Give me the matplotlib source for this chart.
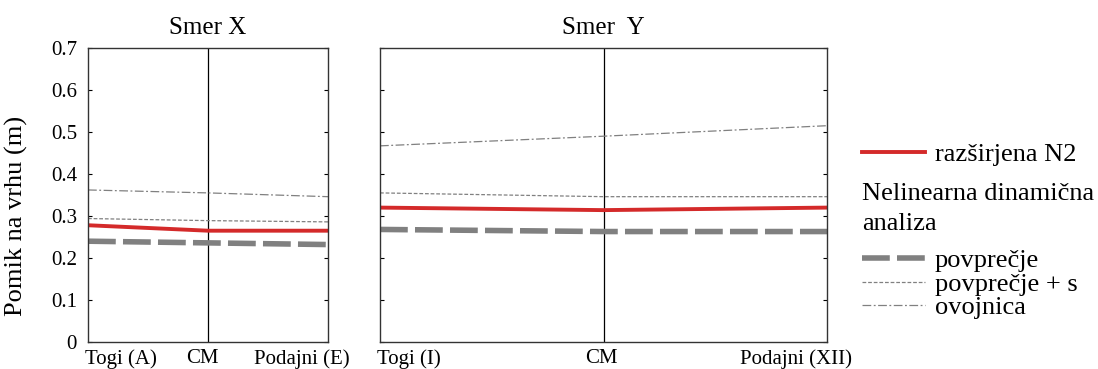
import matplotlib.pyplot as plt
import matplotlib.transforms as mtransforms
from matplotlib.lines import Line2D

plt.rcParams['font.family'] = ['Liberation Serif', 'DejaVu Serif']

# Smer X
x_labels = ['Togi (A)', 'CM', 'Podajni (E)']
x_n2 = [0.278, 0.265, 0.265]
x_povp = [0.240, 0.236, 0.232]
x_povp_s = [0.294, 0.289, 0.286]
x_ovoj = [0.362, 0.355, 0.346]

# Smer Y
y_labels = ['Togi (I)', 'CM', 'Podajni (XII)']
y_n2 = [0.320, 0.314, 0.320]
y_povp = [0.268, 0.263, 0.263]
y_povp_s = [0.355, 0.346, 0.346]
y_ovoj = [0.467, 0.490, 0.515]

yticks = [0, 0.1, 0.2, 0.3, 0.4, 0.5, 0.6, 0.7]
ytick_labels = ['0', '0.1', '0.2', '0.3', '0.4', '0.5', '0.6', '0.7']

red = '#d42a2a'
grey = '#808080'
ls_ovoj = (0, (7, 2, 1.5, 2))
ls_povp_s = (0, (3, 1.5))
ls_povp = (0, (5, 1.3))

fig = plt.figure(figsize=(10.98, 3.69), dpi=100)
ax1 = fig.add_axes([88 / 1098, 1 - 342 / 369, 240 / 1098, 294 / 369])
ax2 = fig.add_axes([380 / 1098, 1 - 342 / 369, 447 / 1098, 294 / 369])


def zamakni(t, dx):
    t.set_transform(t.get_transform() +
                    mtransforms.ScaledTranslation(dx / 100, 0, fig.dpi_scale_trans))


def narisi(ax, labels, n2, povp, povp_s, ovoj, naslov, desni_zamik, cm_zamik):
    pos = range(len(labels))
    ax.axvline(1, color='black', lw=0.9)
    ax.plot(pos, ovoj, color=grey, lw=0.9, linestyle=ls_ovoj)
    ax.plot(pos, povp_s, color=grey, lw=0.9, linestyle=ls_povp_s)
    ax.plot(pos, povp, color=grey, lw=4, linestyle=ls_povp)
    ax.plot(pos, n2, color=red, lw=2.8)
    ax.set_xlim(0, len(labels) - 1)
    ax.set_ylim(0, 0.7)
    ax.set_yticks(yticks)
    ax.set_yticklabels(ytick_labels)
    ax.set_xticks(list(pos))
    ax.set_xticklabels(labels, fontsize=15)
    ax.tick_params(axis='x', length=0, pad=5)
    ax.tick_params(axis='y', direction='in', length=3, right=True, labelsize=15, pad=8)
    # robni oznaki poravnani kot v izvirniku
    tl = ax.get_xticklabels()
    tl[0].set_ha('left')
    zamakni(tl[0], -3)
    zamakni(tl[1], cm_zamik)
    tl[-1].set_ha('right')
    zamakni(tl[-1], desni_zamik)
    for s in ax.spines.values():
        s.set_color('#333333')
        s.set_linewidth(1.0)
    ax.set_title(naslov, fontsize=18, pad=10)


narisi(ax1, x_labels, x_n2, x_povp, x_povp_s, x_ovoj, 'Smer X', 22, -6)
narisi(ax2, y_labels, y_n2, y_povp, y_povp_s, y_ovoj, 'Smer  Y', 25, -2)
ax2.set_yticklabels([])
ax1.set_ylabel('Pomik na vrhu (m)', fontsize=19)
ax1.yaxis.set_label_coords(-0.25, 0.43)

# legenda
h1 = [Line2D([], [], color=red, lw=2.8)]
fig.legend(h1, ['razširjena N2'], loc='center left', bbox_to_anchor=(862 / 1098, 1 - 154 / 369),
           frameon=False, fontsize=19, handlelength=2.4, handletextpad=0.35, borderaxespad=0,
           borderpad=0)
fig.text(862 / 1098, 1 - 200 / 369, 'Nelinearna dinamična', fontsize=19,
         va='baseline', ha='left')
fig.text(862 / 1098, 1 - 230 / 369, 'analiza', fontsize=19,
         va='baseline', ha='left')
h2 = [Line2D([], [], color=grey, lw=4, linestyle=ls_povp),
      Line2D([], [], color=grey, lw=0.9, linestyle=ls_povp_s),
      Line2D([], [], color=grey, lw=0.9, linestyle=ls_ovoj)]
fig.legend(h2, ['povprečje', 'povprečje + s', 'ovojnica'], loc='center left',
           bbox_to_anchor=(862 / 1098, 1 - 284 / 369), frameon=False, fontsize=19,
           handlelength=2.4, handletextpad=0.35, labelspacing=0.0, borderaxespad=0,
           borderpad=0)

fig.savefig('out.png', dpi=100)
